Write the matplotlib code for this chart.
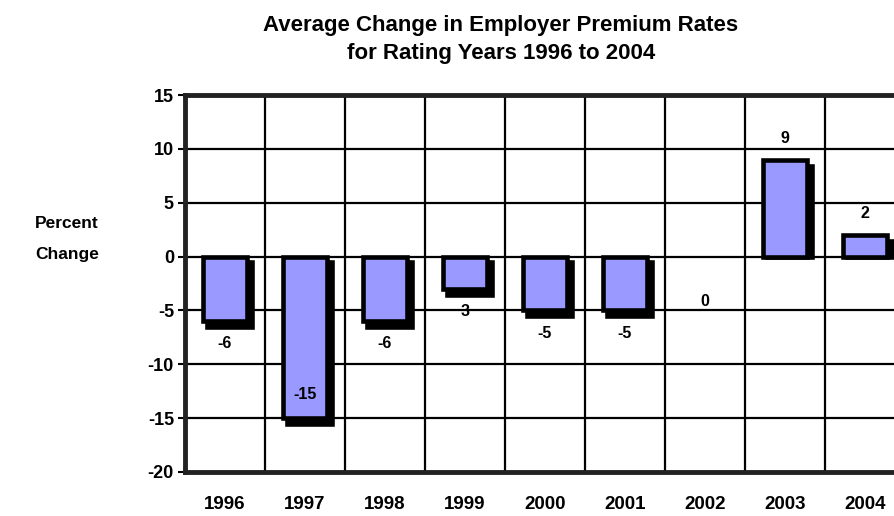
import matplotlib
matplotlib.use("Agg")
import matplotlib.pyplot as plt
import numpy as np

years = ["1996", "1997", "1998", "1999", "2000", "2001", "2002", "2003", "2004"]
values = [-6, -15, -6, -3, -5, -5, 0, 9, 2]
labels = ["-6", "-15", "-6", "3", "-5", "-5", "0", "9", "2"]
yticks = [-20, -15, -10, -5, 0, 5, 10, 15]

plt.rcParams['font.family'] = ['Liberation Sans', 'DejaVu Sans']
plt.rcParams['font.weight'] = 'bold'

fig = plt.figure(figsize=(8.95, 5.16), dpi=100)
W, H = 895, 516
ax = fig.add_axes([185 / W, 1 - 472 / H, 720 / W, (472 - 95) / H])

x = np.arange(len(years))
ax.set_xlim(-0.5, len(years) - 0.5)
ax.set_ylim(-20, 15)

# grid
for b in np.arange(0.5, len(years) - 0.5, 1.0):
    ax.axvline(b, color='black', lw=1.6, zorder=1)
for t in yticks[1:-1]:
    ax.axhline(t, color='black', lw=1.6, zorder=1)

bw = 0.555
dx = 4.5 / 80
dy = 0.55
vals = np.array(values, dtype=float)
nz = vals != 0
sh_bottom = np.where(vals < 0, -dy, 0.0)
sh_top = vals - dy
ax.bar((x + dx)[nz], (sh_top - sh_bottom)[nz], bottom=sh_bottom[nz], width=bw, color='black',
       edgecolor='black', lw=3.3, zorder=2)
ax.bar(x[nz], vals[nz], width=bw, color='#9999FF', edgecolor='black', lw=3.3, zorder=3)

# value labels
for i, (v, lab) in enumerate(zip(values, labels)):
    if v > 0:
        yy = v + 2.0
    elif v == 0:
        yy = -4.2
    else:
        yy = v - 2.1
    if v <= -12:
        yy = v + 2.2
    ax.text(x[i], yy, lab, ha='center', va='center', fontsize=11.5, fontweight='bold', zorder=5)

ax.set_xticks(x)
ax.set_xticklabels(years, fontsize=13.5, fontweight='bold')
ax.set_yticks(yticks)
ax.set_yticklabels([str(t) for t in yticks], fontsize=13, fontweight='bold')
ax.tick_params(axis='x', length=0, pad=17)
ax.tick_params(axis='y', length=5, width=1.5, direction='out', pad=3)

for s in ['left', 'top', 'bottom']:
    ax.spines[s].set_linewidth(3.5)
    ax.spines[s].set_color('#222222')
ax.spines['right'].set_visible(False)

fig.text(501 / W, 1 - 26 / H, "Average Change in Employer Premium Rates", ha='center', va='center',
         fontsize=16, fontweight='bold')
fig.text(501 / W, 1 - 53 / H, "for Rating Years 1996 to 2004", ha='center', va='center',
         fontsize=16, fontweight='bold')
fig.text(67 / W, 1 - 223 / H, "Percent", ha='center', va='center', fontsize=12.5, fontweight='bold')
fig.text(67 / W, 1 - 254 / H, "Change", ha='center', va='center', fontsize=12.5, fontweight='bold')

fig.savefig("out.png", dpi=100)
